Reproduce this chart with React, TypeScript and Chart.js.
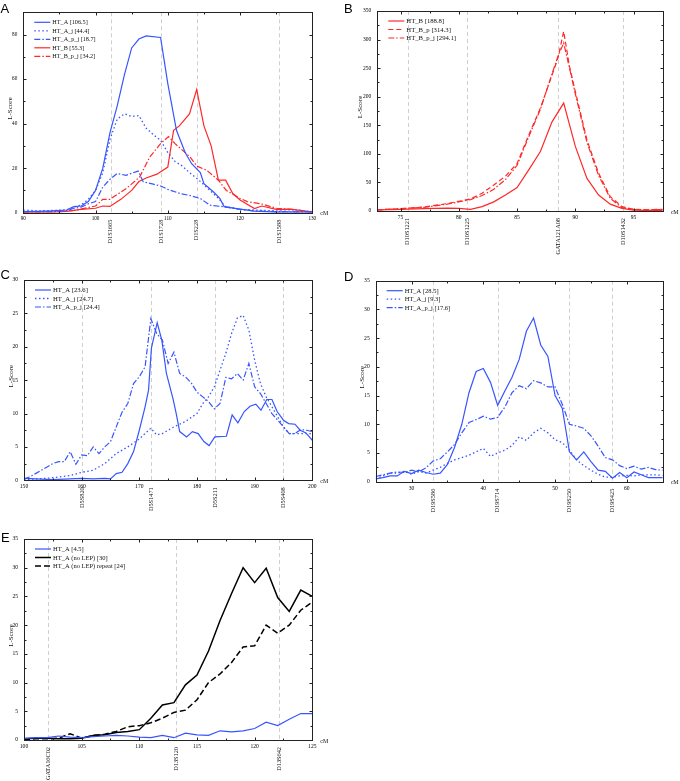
import React, { useEffect, useRef } from "react";
import { Chart, registerables } from "chart.js";
Chart.register(...registerables);

const SERIF = "'Liberation Serif', 'DejaVu Serif', serif";
const SANS = "'Liberation Sans', Arial, sans-serif";
const BLUE = "rgb(55, 85, 255)";
const RED = "rgb(255, 40, 40)";
const BLACK = "#000000";

const DOT = [1.5, 2.5];
const DASHDOT = [6, 2, 1.5, 2];
const DASH = [5, 3];

// ---------- Panel A ----------
const A_MARKERS = ["D1S1665", "D1S1728", "D1S228", "D1S1588"];
const A_MARKER_CM = [102.1, 109.1, 114.0, 125.4];
const A_HT_A_CM = [90, 92, 94, 96, 97, 98, 99, 100, 101, 102, 103, 104, 105, 106, 107, 109, 110, 111.2, 112.4, 113.3, 114.5, 115, 116.3, 117.2, 117.8, 120, 122, 125, 130];
const A_HT_A = [0.5, 0.6, 0.8, 1.2, 2.7, 3, 5, 10, 20, 36, 48, 62, 74, 78, 79.4, 78.7, 58, 37, 27, 22, 18, 13, 9.4, 6.4, 2.7, 1.6, 0.7, 0.3, 0.3];
const A_HT_A_J_CM = [90, 92, 94, 96, 97, 98, 99, 100, 101, 102, 103, 104, 105, 106, 107, 108, 109, 110, 111, 112, 113, 114, 115, 116, 117, 118, 120, 125, 130];
const A_HT_A_J = [1.2, 0.8, 1, 1.3, 2.5, 3.5, 6, 10, 18, 33, 42, 44.4, 43.2, 43.6, 38, 35, 32.5, 27, 23, 21, 18, 15.5, 12.5, 9.5, 6.5, 2.7, 1.5, 0.8, 0.5];
const A_HT_A_PJ_CM = [90, 93, 96, 97, 98, 99, 100, 101, 102, 103, 104.2, 105.9, 106.6, 108, 109.1, 110, 111.7, 113.1, 114.5, 115.8, 117.7, 120, 122, 125, 130];
const A_HT_A_PJ = [0.5, 0.5, 0.8, 2, 2.5, 4, 5, 11.5, 15, 17.6, 16.8, 18.7, 13.9, 12.8, 11.9, 10.5, 8.6, 7.7, 6.4, 3.4, 2.7, 1.5, 0.8, 0.5, 0.3];
const A_HT_B_CM = [90, 94, 96, 98, 100, 101, 102, 103.5, 105, 106, 107, 108.5, 110, 110.8, 111.6, 113, 114, 115, 116, 117, 118, 119, 120, 122, 123, 125, 127, 130];
const A_HT_B = [0.3, 0.3, 0.6, 1.5, 2, 3, 2.8, 6, 10, 14, 15.6, 17.3, 20.5, 37, 39, 44.4, 55.3, 39, 30, 14.6, 14.6, 8.6, 5.7, 1.9, 3, 1.5, 1.6, 0.3];
const A_HT_B_PJ_CM = [90, 95, 97, 100, 101, 102, 104.3, 106.1, 107.5, 109, 110.1, 111, 113.1, 114, 115.4, 117, 118.1, 120, 121, 123, 125, 127, 130];
const A_HT_B_PJ = [0.3, 0.5, 1, 3, 6, 6, 11, 16, 25, 31, 34.2, 31, 25, 21, 19, 14.6, 10, 6.4, 5, 3.9, 2, 1.5, 0.5];

// ---------- Panel B ----------
const B_MARKERS = ["D10S1221", "D10S1225", "GATA121A08", "D10S1432"];
const B_MARKER_CM = [75.6, 80.7, 88.5, 94.1];
const B_HT_B_CM = [73, 75, 77, 79, 80, 81, 82, 83, 84, 85, 86, 87, 88, 89, 90, 91, 92, 93, 94, 95, 96, 97.5];
const B_HT_B = [2, 3, 4, 5, 4.5, 3, 7.6, 16, 28, 41, 72, 104, 156, 188.8, 113, 57, 28, 12, 4.7, 1.7, 1, 1];
const B_P_CM = [73, 75, 77, 79, 81, 82, 83, 84, 85, 86, 87, 88, 88.5, 89, 89.5, 90, 91, 92, 93, 94, 95, 96, 97.5];
const B_HT_B_P = [2, 4, 7, 13, 21, 31, 45.5, 61, 83, 133, 180, 238, 267, 314.3, 253, 209, 124, 66, 25, 7.6, 3, 2, 3];
const B_HT_B_PJ = [2, 4, 6.5, 12, 20, 27, 38, 55, 80, 130, 178, 240, 270, 294.1, 250, 205, 120, 62, 22, 6, 3, 2, 2.5];

// ---------- Panel C ----------
const C_MARKERS = ["D5S820", "D5S1471", "D5S211", "D5S408"];
const C_MARKER_CM = [160.1, 172.1, 183.2, 195.0];
const C_HT_A_CM = [150, 152, 155, 158, 160, 162, 164, 165, 166, 167, 168, 169, 170, 171, 171.6, 172.1, 173.1, 173.9, 174.7, 175.9, 176.4, 177, 178.2, 179.2, 180.2, 181.2, 182.1, 183.1, 185.1, 186.1, 187.1, 188.2, 189.2, 190.2, 191.1, 192.1, 193, 193.9, 195, 195.9, 197, 197.9, 198.9, 200];
const C_HT_A = [0.3, 0.2, 0.1, 0.2, 0.3, 0.2, 0.3, 0.2, 1.0, 1.2, 2.5, 4.3, 7.5, 11, 13.5, 19.8, 23.6, 21, 16, 12, 10, 7.3, 6.5, 7.3, 7, 5.8, 5.2, 6.5, 6.6, 9.8, 8.6, 10.3, 11.1, 11.4, 10.5, 12.1, 12.1, 10.3, 9, 8.5, 8.4, 7.5, 7.1, 6.0];
const C_HT_A_J_CM = [150, 152, 154, 156, 158, 160, 162, 164, 166, 168, 170, 172, 173, 174, 176, 178, 180, 181, 182, 183, 184, 185, 186, 187, 188, 189, 190, 191, 192, 193, 194, 195, 196, 198, 200];
const C_HT_A_J = [0.1, 0.2, 0.3, 0.5, 0.7, 1.2, 1.5, 2.5, 4, 5, 6.2, 7.8, 6.8, 7, 8, 8.8, 10, 11.5, 12.5, 14, 16.5, 19, 22, 24.3, 24.7, 22.5, 18, 14.5, 12.5, 11, 9.5, 8, 7, 7, 7];
const C_PJ_CM = [150, 151, 152, 153, 154, 155, 156, 157, 158, 159, 160, 161, 162, 163, 164, 165, 166, 167, 168, 169, 170, 171, 172, 173, 174, 175, 176, 177, 178, 179, 180, 181, 182, 183, 184, 185, 186, 187, 188, 189, 190, 191, 192, 193, 194, 195, 196, 197, 198, 199, 200];
const C_HT_A_PJ = [0.2, 0.5, 1.0, 1.5, 2.0, 2.5, 2.8, 2.8, 4.3, 2.4, 3.8, 3.7, 5.0, 4.0, 5.0, 5.8, 8.0, 10.2, 11.5, 14.5, 15.5, 17.0, 24.2, 22.0, 21.0, 17.5, 19.2, 16.0, 15.5, 14.6, 13.2, 12.5, 11.8, 10.7, 11.5, 15.4, 15.2, 16.0, 15.0, 17.5, 14.0, 13.0, 11.5, 10.0, 9.0, 8.0, 7.0, 7.0, 7.6, 7.5, 7.3];

// ---------- Panel D ----------
const D_MARKERS = ["D19S586", "D19S714", "D19S250", "D19S425"];
const D_MARKER_CM = [33.0, 42.0, 52.0, 58.0];
const D_CM = [25, 26, 27, 28, 29, 30, 31, 32, 33, 34, 35, 36, 37, 38, 39, 40, 41, 42, 43, 44, 45, 46, 47, 48, 49, 50, 51, 52, 53, 54, 55, 56, 57, 58, 59, 60, 61, 62, 63, 64, 65];
const D_HT_A = [0.5, 0.7, 1.0, 1.0, 1.8, 1.4, 2.0, 1.6, 1.3, 1.5, 3.0, 6.0, 10.0, 15.5, 19.2, 19.7, 17.3, 13.3, 15.8, 18.2, 21.3, 26.2, 28.5, 23.8, 21.8, 15.0, 12.8, 5.2, 3.8, 5.2, 3.5, 2.0, 1.8, 0.6, 1.6, 0.7, 1.7, 1.2, 0.7, 0.7, 0.7];
const D_HT_A_J = [0.5, 1.0, 1.5, 1.5, 1.8, 1.3, 1.8, 1.5, 2.0, 2.5, 3.2, 3.8, 4.2, 4.6, 5.2, 5.8, 4.4, 5.0, 5.5, 6.3, 7.8, 7.2, 8.5, 9.3, 8.5, 7.3, 6.8, 5.5, 3.8, 2.8, 2.0, 1.3, 0.8, 0.8, 1.0, 1.1, 1.0, 1.2, 1.2, 1.2, 1.1];
const D_HT_A_PJ = [0.9, 1.2, 1.5, 1.7, 1.6, 2.0, 1.7, 2.4, 3.6, 4.0, 5.2, 6.5, 8.5, 10.3, 10.8, 11.4, 10.9, 11.2, 13.0, 15.5, 16.7, 16.2, 17.6, 17.2, 16.5, 16.5, 13.5, 10.0, 9.7, 9.3, 8.0, 6.2, 4.2, 3.8, 2.8, 2.3, 2.7, 2.2, 2.5, 2.1, 2.0];

// ---------- Panel E ----------
const E_MARKERS = ["GATA16C02", "D13S120", "D13S642"];
const E_MARKER_CM = [102.1, 113.2, 122.1];
const E_CM = [100, 101, 102, 103, 104, 105, 106, 107, 108, 109, 110, 111, 112, 113, 114, 115, 116, 117, 118, 119, 120, 121, 122, 123, 124, 125];
const E_HT_A = [0.3, 0.4, 0.4, 0.7, 0.5, 0.4, 0.6, 0.7, 0.8, 0.7, 0.5, 0.4, 0.8, 0.4, 1.2, 0.9, 0.8, 1.6, 1.4, 1.6, 2.0, 3.1, 2.5, 3.6, 4.6, 4.6];
const E_NO_LEP = [0.2, 0.3, 0.3, 0.2, 0.2, 0.3, 0.8, 0.9, 1.3, 1.5, 1.8, 3.8, 6.1, 6.5, 9.6, 11.3, 15.5, 20.8, 25.5, 30, 27.4, 29.9, 24.8, 22.4, 26.1, 25];
const E_NO_LEP_REPEAT = [0.1, 0.2, 0.2, 0.3, 1.1, 0.3, 0.8, 1.0, 1.5, 2.3, 2.5, 3.0, 3.8, 4.8, 5.2, 7, 10, 11.5, 13.5, 16.2, 16.4, 20, 18.6, 20, 22.6, 24];

type Series = { label: string; xs: number[]; ys: number[]; color: string; dash: number[]; width: number };
type PanelCfg = {
  letter: string;
  letterX: number;
  letterY: number;
  canvas: { x: number; y: number; w: number; h: number };
  plot: { l: number; t: number; r: number; b: number };
  xMin: number; xMax: number; xMinor: number; xMajor: number;
  yMax: number; yMinor: number; yMajor: number;
  markers: string[]; markerCm: number[];
  series: Series[];
  tickFont: number; legendFont: number; titleOffset: number;
};

const PANELS: PanelCfg[] = [
  {
    letter: "A", letterX: 0.5, letterY: 13.3,
    canvas: { x: 0, y: 0, w: 340, h: 260 },
    plot: { l: 23.3, t: 12.3, r: 312.3, b: 212.7 },
    xMin: 90, xMax: 130, xMinor: 5, xMajor: 10,
    yMax: 90, yMinor: 10, yMajor: 20,
    markers: A_MARKERS, markerCm: A_MARKER_CM,
    series: [
      { label: "HT_A [106.5]", xs: A_HT_A_CM, ys: A_HT_A, color: BLUE, dash: [], width: 1.2 },
      { label: "HT_A_j [44.4]", xs: A_HT_A_J_CM, ys: A_HT_A_J, color: BLUE, dash: DOT, width: 1.3 },
      { label: "HT_A_p_j [18.7]", xs: A_HT_A_PJ_CM, ys: A_HT_A_PJ, color: BLUE, dash: DASHDOT, width: 1.2 },
      { label: "HT_B [55.3]", xs: A_HT_B_CM, ys: A_HT_B, color: RED, dash: [], width: 1.2 },
      { label: "HT_B_p_j [34.2]", xs: A_HT_B_PJ_CM, ys: A_HT_B_PJ, color: RED, dash: DASHDOT, width: 1.2 },
    ],
    tickFont: 5.2, legendFont: 6.2, titleOffset: 13,
  },
  {
    letter: "B", letterX: 344, letterY: 13.3,
    canvas: { x: 340, y: 0, w: 340, h: 260 },
    plot: { l: 377.3, t: 11, r: 662.7, b: 211 },
    xMin: 73, xMax: 97.5, xMinor: 2.5, xMajor: 5,
    yMax: 350, yMinor: 25, yMajor: 50,
    markers: B_MARKERS, markerCm: B_MARKER_CM,
    series: [
      { label: "HT_B [188.8]", xs: B_HT_B_CM, ys: B_HT_B, color: RED, dash: [], width: 1.2 },
      { label: "HT_B_p [314.3]", xs: B_P_CM, ys: B_HT_B_P, color: RED, dash: DASH, width: 1.2 },
      { label: "HT_B_p_j [294.1]", xs: B_P_CM, ys: B_HT_B_PJ, color: RED, dash: DASHDOT, width: 1.2 },
    ],
    tickFont: 5.5, legendFont: 6.7, titleOffset: 17,
  },
  {
    letter: "C", letterX: 0.5, letterY: 278.5,
    canvas: { x: 0, y: 260, w: 340, h: 260 },
    plot: { l: 24, t: 280, r: 312.3, b: 480.3 },
    xMin: 150, xMax: 200, xMinor: 5, xMajor: 10,
    yMax: 30, yMinor: 2.5, yMajor: 5,
    markers: C_MARKERS, markerCm: C_MARKER_CM,
    series: [
      { label: "HT_A [23.6]", xs: C_HT_A_CM, ys: C_HT_A, color: BLUE, dash: [], width: 1.2 },
      { label: "HT_A_j [24.7]", xs: C_HT_A_J_CM, ys: C_HT_A_J, color: BLUE, dash: DOT, width: 1.3 },
      { label: "HT_A_p_j [24.4]", xs: C_PJ_CM, ys: C_HT_A_PJ, color: BLUE, dash: DASHDOT, width: 1.2 },
    ],
    tickFont: 5.6, legendFont: 6.7, titleOffset: 12.5,
  },
  {
    letter: "D", letterX: 344, letterY: 280.7,
    canvas: { x: 340, y: 260, w: 340, h: 260 },
    plot: { l: 375.7, t: 280.7, r: 662.7, b: 481.7 },
    xMin: 25, xMax: 65, xMinor: 5, xMajor: 10,
    yMax: 35, yMinor: 2.5, yMajor: 5,
    markers: D_MARKERS, markerCm: D_MARKER_CM,
    series: [
      { label: "HT_A [28.5]", xs: D_CM, ys: D_HT_A, color: BLUE, dash: [], width: 1.2 },
      { label: "HT_A_j [9.3]", xs: D_CM, ys: D_HT_A_J, color: BLUE, dash: DOT, width: 1.3 },
      { label: "HT_A_p_j [17.6]", xs: D_CM, ys: D_HT_A_PJ, color: BLUE, dash: DASHDOT, width: 1.2 },
    ],
    tickFont: 5.6, legendFont: 6.5, titleOffset: 14,
  },
  {
    letter: "E", letterX: 1, letterY: 542,
    canvas: { x: 0, y: 520, w: 340, h: 261 },
    plot: { l: 24, t: 539, r: 312.3, b: 740 },
    xMin: 100, xMax: 125, xMinor: 2.5, xMajor: 5,
    yMax: 35, yMinor: 2.5, yMajor: 5,
    markers: E_MARKERS, markerCm: E_MARKER_CM,
    series: [
      { label: "HT_A [4.5]", xs: E_CM, ys: E_HT_A, color: BLUE, dash: [], width: 1.2 },
      { label: "HT_A (no LEP) [30]", xs: E_CM, ys: E_NO_LEP, color: BLACK, dash: [], width: 1.5 },
      { label: "HT_A (no LEP) repeat [24]", xs: E_CM, ys: E_NO_LEP_REPEAT, color: BLACK, dash: [6, 3], width: 1.5 },
    ],
    tickFont: 5.6, legendFont: 6.5, titleOffset: 12.5,
  },
];

function isMult(v: number, step: number) {
  const q = v / step;
  return Math.abs(q - Math.round(q)) < 1e-6;
}

function Panel({ cfg }: { cfg: PanelCfg }) {
  const ref = useRef<HTMLCanvasElement>(null);
  useEffect(() => {
    const c = cfg;
    const ox = c.canvas.x;
    const oy = c.canvas.y;
    const decor = {
      id: "decor" + c.letter,
      beforeDatasetsDraw(chart: any) {
        const { ctx, chartArea: ca, scales } = chart;
        ctx.save();
        ctx.strokeStyle = "#cfcfcf";
        ctx.lineWidth = 1;
        ctx.setLineDash([4, 3]);
        c.markerCm.forEach((m) => {
          const x = Math.round(scales.x.getPixelForValue(m)) + 0.5;
          ctx.beginPath();
          ctx.moveTo(x, ca.top);
          ctx.lineTo(x, ca.bottom);
          ctx.stroke();
        });
        ctx.restore();
      },
      afterDraw(chart: any) {
        const { ctx, chartArea: ca, scales } = chart;
        ctx.save();
        // frame
        ctx.strokeStyle = "#222";
        ctx.lineWidth = 1;
        ctx.setLineDash([]);
        const L = Math.round(ca.left) + 0.5, R = Math.round(ca.right) + 0.5;
        const T = Math.round(ca.top) + 0.5, B = Math.round(ca.bottom) + 0.5;
        ctx.strokeRect(L, T, R - L, B - T);
        // inward ticks
        ctx.beginPath();
        for (let v = Math.ceil(c.xMin / c.xMinor - 1e-9) * c.xMinor; v <= c.xMax + 1e-9; v += c.xMinor) {
          const x = Math.round(scales.x.getPixelForValue(v)) + 0.5;
          const len = isMult(v, c.xMajor) ? 3 : 2;
          ctx.moveTo(x, B); ctx.lineTo(x, B - len);
          ctx.moveTo(x, T); ctx.lineTo(x, T + len);
        }
        for (let v = 0; v <= c.yMax + 1e-9; v += c.yMinor) {
          const y = Math.round(scales.y.getPixelForValue(v)) + 0.5;
          const len = isMult(v, c.yMajor) ? 3 : 2;
          ctx.moveTo(L, y); ctx.lineTo(L + len, y);
          ctx.moveTo(R, y); ctx.lineTo(R - len, y);
        }
        ctx.stroke();
        // marker labels
        ctx.fillStyle = "#111";
        ctx.font = `6.3px ${SERIF}`;
        c.markers.forEach((name, i) => {
          const x = scales.x.getPixelForValue(c.markerCm[i]);
          ctx.save();
          ctx.translate(x, ca.bottom + 7);
          ctx.rotate(-Math.PI / 2);
          ctx.textAlign = "right";
          ctx.textBaseline = "middle";
          ctx.fillText(name, 0, 0);
          ctx.restore();
        });
        // cM label
        ctx.font = `6px ${SERIF}`;
        ctx.textAlign = "center";
        ctx.textBaseline = "middle";
        ctx.fillText("cM", ca.right + 12, ca.bottom + 1);
        // y title
        ctx.save();
        ctx.font = `7px ${SERIF}`;
        ctx.translate(ca.left - c.titleOffset, (ca.top + ca.bottom) / 2 - 4);
        ctx.rotate(-Math.PI / 2);
        ctx.textAlign = "center";
        ctx.textBaseline = "middle";
        ctx.fillText("L-Score", 0, 0);
        ctx.restore();
        // legend
        c.series.forEach((s, i) => {
          const y = ca.top + 10 + i * 8.5;
          ctx.save();
          ctx.strokeStyle = s.color;
          ctx.lineWidth = s.width;
          ctx.setLineDash(s.dash);
          ctx.beginPath();
          ctx.moveTo(ca.left + 11, y);
          ctx.lineTo(ca.left + 27, y);
          ctx.stroke();
          ctx.restore();
          ctx.fillStyle = "#111";
          ctx.font = `${c.legendFont}px ${SERIF}`;
          ctx.textAlign = "left";
          ctx.textBaseline = "middle";
          ctx.fillText(s.label, ca.left + 29, y + 0.5);
        });
        // panel letter
        ctx.fillStyle = "#000";
        ctx.font = `13px ${SANS}`;
        ctx.textAlign = "left";
        ctx.textBaseline = "alphabetic";
        ctx.fillText(c.letter, c.letterX - ox, c.letterY - oy);
        ctx.restore();
      },
    };
    const tickFont = { family: SERIF, size: c.tickFont };
    const chart = new Chart(ref.current as HTMLCanvasElement, {
      type: "line",
      data: {
        datasets: c.series.map((s) => ({
          label: s.label,
          data: s.xs.map((x, i) => ({ x, y: s.ys[i] })),
          borderColor: s.color,
          backgroundColor: s.color,
          borderWidth: s.width,
          borderDash: s.dash,
          pointRadius: 0,
          fill: false,
          tension: 0,
        })),
      },
      options: {
        responsive: false,
        animation: false,
        devicePixelRatio: 1,
        layout: {
          padding: {
            top: c.plot.t - oy,
            right: ox + c.canvas.w - c.plot.r,
            left: 0,
            bottom: 0,
          },
        },
        plugins: { legend: { display: false }, tooltip: { enabled: false } },
        scales: {
          x: {
            type: "linear",
            min: c.xMin,
            max: c.xMax,
            afterFit: (s: any) => { s.height = oy + c.canvas.h - c.plot.b; },
            grid: { display: false, drawTicks: false },
            border: { display: false },
            ticks: {
              stepSize: c.xMinor,
              autoSkip: false,
              maxRotation: 0,
              minRotation: 0,
              padding: 3,
              color: "#000",
              font: tickFont,
              callback: (v: any) => (isMult(Number(v), c.xMajor) ? String(v) : ""),
            },
          },
          y: {
            type: "linear",
            min: 0,
            max: c.yMax,
            afterFit: (s: any) => { s.width = c.plot.l - ox; },
            grid: { display: false, drawTicks: false },
            border: { display: false },
            ticks: {
              stepSize: c.yMinor,
              autoSkip: false,
              padding: 6,
              color: "#000",
              font: tickFont,
              callback: (v: any) => (isMult(Number(v), c.yMajor) ? String(v) : ""),
            },
          },
        },
      } as any,
      plugins: [decor],
    });
    return () => chart.destroy();
  }, [cfg]);
  return (
    <canvas
      ref={ref}
      width={cfg.canvas.w}
      height={cfg.canvas.h}
      style={{ position: "absolute", left: cfg.canvas.x, top: cfg.canvas.y, width: cfg.canvas.w, height: cfg.canvas.h }}
    />
  );
}

export default function App() {
  return (
    <div style={{ position: "absolute", left: 0, top: 0, width: 680, height: 781, background: "#fff", overflow: "hidden" }}>
      {PANELS.map((p) => (
        <Panel key={p.letter} cfg={p} />
      ))}
    </div>
  );
}
